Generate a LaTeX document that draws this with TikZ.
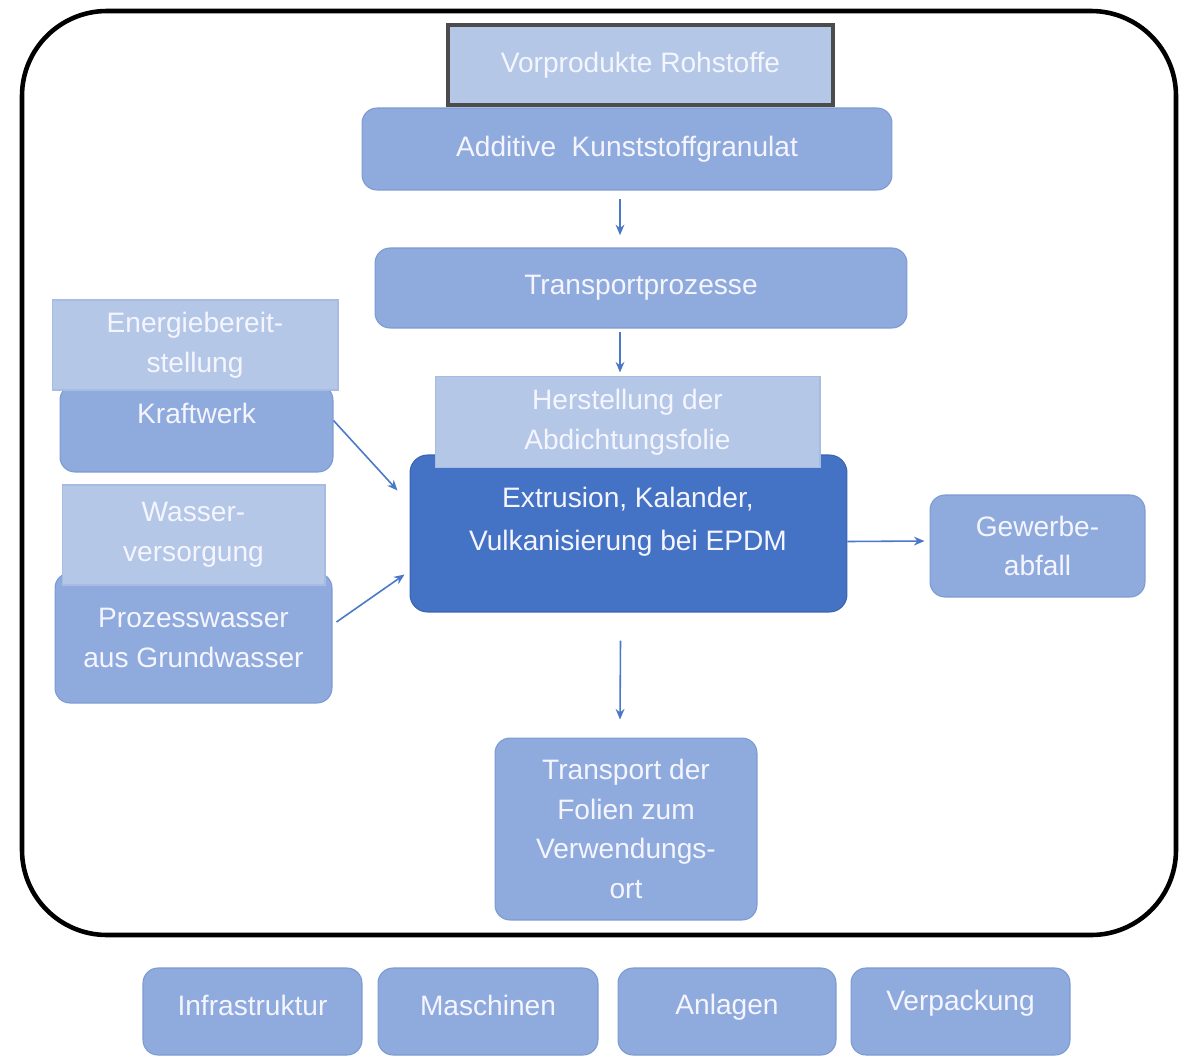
\documentclass[tikz,border=0pt]{standalone}
\usepackage{fontspec}
\setmainfont{Liberation Sans}
\usetikzlibrary{calc,arrows.meta}
\definecolor{lightb}{HTML}{B4C7E7}
\definecolor{lightbd}{HTML}{A6BCE2}
\definecolor{medb}{HTML}{8FAADC}
\definecolor{medbd}{HTML}{7C9BD3}
\definecolor{darkb}{HTML}{4472C4}
\definecolor{darkbd}{HTML}{3A64B0}
\definecolor{arrc}{HTML}{4A78C8}
\tikzset{
  every node/.style={font=\fontsize{16}{22.5}\selectfont, text=white!96!blue, align=center, inner sep=0pt},
  lightbox/.style={fill=lightb, draw=lightbd, line width=0.6pt},
  medbox/.style={fill=medb, draw=medbd, line width=0.6pt, rounded corners=0.3cm},
  darkbox/.style={fill=darkb, draw=darkbd, line width=0.6pt, rounded corners=0.35cm},
  topbox/.style={fill=lightb, draw=black!70, line width=2pt},
  arr/.style={draw=arrc, line width=0.9pt, -{Stealth[length=6pt,width=5pt]}},
}
\begin{document}
\begin{tikzpicture}[x=0.02cm, y=-0.02cm]
\useasboundingbox (0,0) rectangle (1179,1058);
% frame
\draw[line width=2.6pt, rounded corners=1.7cm] (22,11) rectangle (1176,935);
% top chain
\node[medbox, minimum width=10.6cm, minimum height=1.64cm] (add) at (627,149) {Additive\ \ Kunststoffgranulat};
\node[topbox, minimum width=7.7cm, minimum height=1.6cm] (vor) at (640.5,65) {Vorprodukte Rohstoffe};
\node[medbox, minimum width=10.64cm, minimum height=1.6cm] (trans) at (641,288) {Transportprozesse};
% production
\node[darkbox, minimum width=8.74cm, minimum height=3.14cm] (ext) at (628.5,533.5) {};
\node (extt) at (628,522) {Extrusion, Kalander,\\[2pt]Vulkanisierung bei EPDM};
\node[lightbox, minimum width=7.7cm, minimum height=1.82cm] (her) at (627.5,422) {Herstellung der\\Abdichtungsfolie};
% left side
\node[medbox, minimum width=5.46cm, minimum height=1.74cm] (kraft) at (196.5,428.5) {};
\node (kraftt) at (196.5,413) {Kraftwerk};
\node[lightbox, minimum width=5.72cm, minimum height=1.8cm] (energie) at (195,345) {Energiebereit-\\stellung};
\node[medbox, minimum width=5.54cm, minimum height=2.6cm] (prozess) at (193.5,638) {Prozesswasser\\aus Grundwasser};
\node[lightbox, minimum width=5.26cm, minimum height=2.0cm] (wasser) at (193.5,535) {Wasser-\\versorgung};
% right
\node[medbox, minimum width=4.3cm, minimum height=2.04cm] (gew) at (1037.5,546) {Gewerbe-\\abfall};
% bottom target
\node[medbox, minimum width=5.24cm, minimum height=3.64cm] (tdf) at (626,829) {Transport der\\Folien zum\\Verwendungs-\\ort};
% bottom row
\node[medbox, minimum width=4.38cm, minimum height=1.74cm] (infra) at (252.5,1011.5) {};
\node (infrat) at (252.5,1005) {Infrastruktur};
\node[medbox, minimum width=4.4cm, minimum height=1.74cm] (masch) at (488,1011.5) {};
\node (mascht) at (488,1005) {Maschinen};
\node[medbox, minimum width=4.36cm, minimum height=1.74cm] (anl) at (727,1011.5) {};
\node (anlt) at (727,1007) {Anlagen};
\node[medbox, minimum width=4.38cm, minimum height=1.74cm] (verp) at (960.5,1011.5) {};
\node (verpt) at (960.5,1003) {Verpackung};
% arrows
\draw[arr, shorten <=5pt, shorten >=7pt] ($(add.south)+(-7,0)$) -- ($(add.south |- trans.north)+(-7,0)$);
\draw[arr, shorten <=2pt, shorten >=2pt] ($(trans.south)+(-21,0)$) -- ($(trans.south |- her.north)+(-21,0)$);
\draw[arr] ($(kraft.east)+(0,-8)$) -- ($(ext.west)+(-12,-43)$);
\draw[arr] ($(prozess.east)+(4,-16)$) -- ($(ext.west)+(-5,41)$);
\draw[arr] ($(ext.east)+(0,8)$) -- ($(gew.west)+(-5,-5)$);
\draw[arr] ($(ext.south)+(-8,28)$) -- ($(tdf.north)+(-6,-18)$);
\end{tikzpicture}
\end{document}
